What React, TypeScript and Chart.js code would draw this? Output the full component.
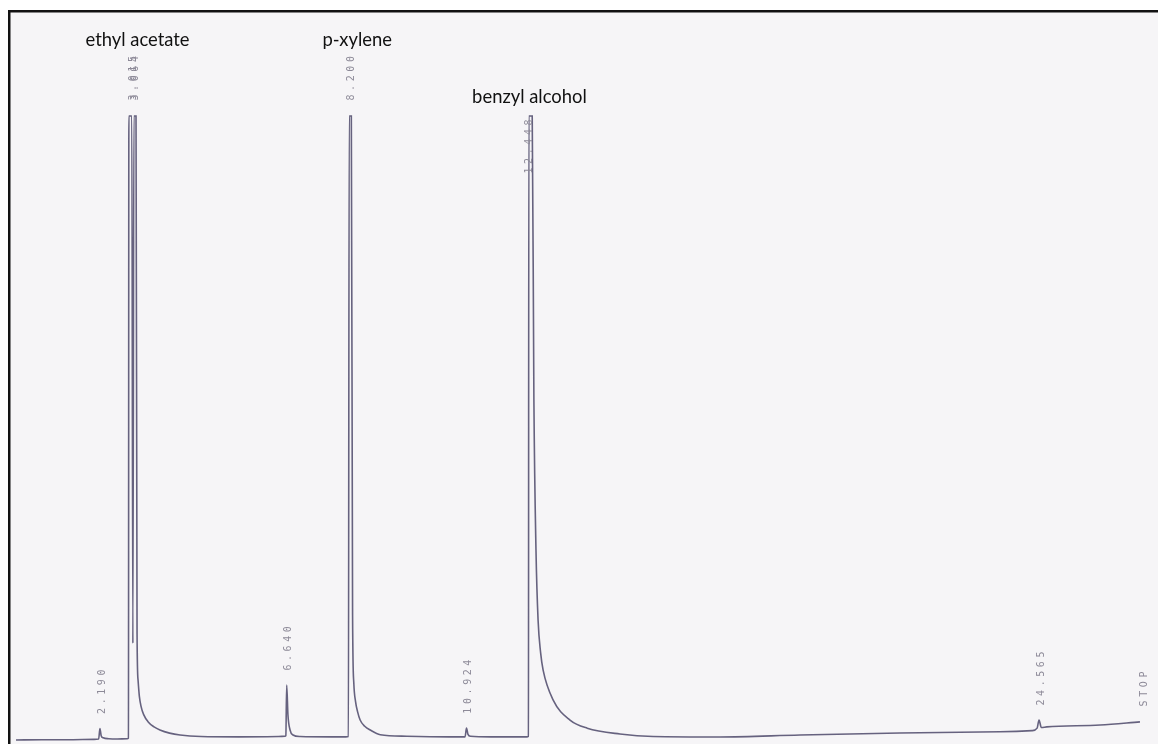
import { useEffect, useRef } from 'react';
import { Chart, registerables } from 'chart.js';

Chart.register(...registerables);

// Detector trace: retention time (min) and detector response (% of recorder full scale)
const times = [
  0.19, 0.8, 1.5, 2.05, 2.16, 2.19, 2.22, 2.27, 2.4, 2.6, 2.84, 2.87,
  2.88, 2.95, 2.975, 3.0, 3.05, 3.075, 3.1, 3.13, 3.17, 3.23, 3.34, 3.48, 3.62, 3.85, 4.1, 4.6, 5.5,
  6.45, 6.6, 6.62, 6.64, 6.67, 6.72, 6.79, 6.96, 7.7, 8.05, 8.11,
  8.13, 8.18, 8.21, 8.24, 8.28, 8.33, 8.39, 8.5, 8.63, 8.87, 9.5, 10.5,
  10.89, 10.924, 10.96, 11.02, 11.5, 12.36, 12.4,
  12.41, 12.49, 12.53, 12.58, 12.63, 12.69, 12.75, 12.99, 13.39, 13.8, 14.58, 15.37, 16.96,
  18.87, 21.25, 23.64, 24.4, 24.52, 24.565, 24.62, 24.75, 26.02, 26.97,
];
const signal = [
  0.0, 0.05, 0.05, 0.1, 0.15, 1.85, 0.7, 0.35, 0.2, 0.15, 0.2, 0.3,
  100, 100, 15.5, 100, 100, 17, 9.5, 7.0, 5.4, 4.1, 2.9, 2.1, 1.6, 1.1, 0.8, 0.56, 0.5,
  0.55, 0.6, 0.7, 8.8, 4.0, 1.6, 0.8, 0.56, 0.5, 0.5, 0.55,
  100, 100, 20, 9.0, 6.2, 4.5, 3.2, 2.2, 1.6, 0.85, 0.6, 0.5,
  0.5, 1.9, 0.9, 0.6, 0.5, 0.5, 0.6,
  100, 100, 54.5, 30.4, 19.2, 14.0, 11.2, 6.4, 3.2, 1.9, 0.96, 0.55, 0.48,
  0.8, 1.12, 1.33, 1.5, 1.9, 3.2, 2.0, 2.1, 2.4, 2.9,
];

// Integrator retention-time printout
const peakTimes = [2.19, 3.015, 3.064, 6.64, 8.2, 10.924, 12.448, 24.565];
const peakLabels = ['2.190', '3.015', '3.064', '6.640', '8.200', '10.924', '12.448', '24.565'];
const stopText = 'STOP';

// Hand-written compound annotations
const compoundNames = ['ethyl acetate', 'p-xylene', 'benzyl alcohol'];
const compoundTimes = [3.015, 8.2, 12.448];

const W = 1158;
const H = 744;

function heightNear(t: number): number {
  let m = 0;
  times.forEach((tt, i) => {
    if (Math.abs(tt - t) <= 0.05 && signal[i] > m) m = signal[i];
  });
  return m;
}

function drawVertical(ctx: CanvasRenderingContext2D, text: string, cx: number, startY: number) {
  const step = 9.6;
  ctx.save();
  ctx.translate(cx, startY);
  ctx.rotate(-Math.PI / 2);
  ctx.textAlign = 'left';
  ctx.textBaseline = 'middle';
  for (let i = 0; i < text.length; i++) {
    ctx.fillText(text[i], i * step + 1.5, 0);
  }
  ctx.restore();
}

const paperPlugin = {
  id: 'paper',
  beforeDraw(chart: any) {
    const ctx: CanvasRenderingContext2D = chart.ctx;
    ctx.save();
    ctx.fillStyle = '#ffffff';
    ctx.fillRect(0, 0, W, H);
    ctx.fillStyle = '#f6f5f7';
    ctx.fillRect(8, 10, W - 8, H - 10);
    ctx.fillStyle = '#121212';
    ctx.fillRect(8, 10, W - 8, 2.5);
    ctx.fillRect(8, 10, 2.5, H - 10);
    ctx.restore();
  },
  afterDatasetsDraw(chart: any, _args: any, opts: any) {
    const ctx: CanvasRenderingContext2D = chart.ctx;
    const xs = chart.scales.x;
    const ys = chart.scales.y;
    const top = ys.getPixelForValue(100);
    ctx.save();
    ctx.fillStyle = '#8d8a98';
    ctx.font = '10px "DejaVu Sans Mono", monospace';
    peakTimes.forEach((t, i) => {
      const h = heightNear(t);
      let cx = xs.getPixelForValue(t) + 2;
      let y0: number;
      if (h >= 100) {
        cx -= 3;
        y0 = opts.insideLabels.includes(peakLabels[i]) ? top + 59 : top - 14;
      } else {
        y0 = ys.getPixelForValue(h) - 13;
      }
      drawVertical(ctx, peakLabels[i], cx, y0);
    });
    const tEnd = times[times.length - 1];
    const yEnd = signal[signal.length - 1];
    drawVertical(ctx, stopText, xs.getPixelForValue(tEnd) + 4, ys.getPixelForValue(yEnd) - 14);

    ctx.fillStyle = '#111111';
    ctx.font = '18.4px Lato, "Open Sans", sans-serif';
    ctx.textAlign = 'center';
    ctx.textBaseline = 'alphabetic';
    compoundNames.forEach((name, i) => {
      const cx = xs.getPixelForValue(compoundTimes[i]) + opts.nameShift[i];
      ctx.fillText(name, cx, top - opts.nameLift[i]);
    });
    ctx.restore();
  },
};

export default function App() {
  const ref = useRef<HTMLCanvasElement | null>(null);

  useEffect(() => {
    const canvas = ref.current;
    if (!canvas) return;
    const chart = new Chart(canvas, {
      type: 'line',
      data: {
        datasets: [
          {
            data: times.map((t, i) => ({ x: t, y: signal[i] })),
            borderColor: '#66627f',
            borderWidth: 1.6,
            pointRadius: 0,
            fill: false,
            cubicInterpolationMode: 'monotone',
            clip: false as any,
          },
        ],
      },
      options: {
        responsive: false,
        maintainAspectRatio: false,
        animation: false,
        events: [],
        layout: { padding: { left: 8, right: 0, top: 116, bottom: 4 } },
        scales: {
          x: { type: 'linear', min: 0, max: 27.4, display: false },
          y: { type: 'linear', min: 0, max: 100, display: false },
        },
        plugins: {
          legend: { display: false },
          tooltip: { enabled: false },
          paper: { insideLabels: ['12.448'], nameLift: [70, 70, 13], nameShift: [3, 5, -1] },
        } as any,
      },
      plugins: [paperPlugin],
    });
    return () => chart.destroy();
  }, []);

  return (
    <div style={{ position: 'absolute', left: 0, top: 0, width: W, height: H }}>
      <canvas ref={ref} width={W} height={H} style={{ display: 'block', width: W, height: H }} />
    </div>
  );
}
